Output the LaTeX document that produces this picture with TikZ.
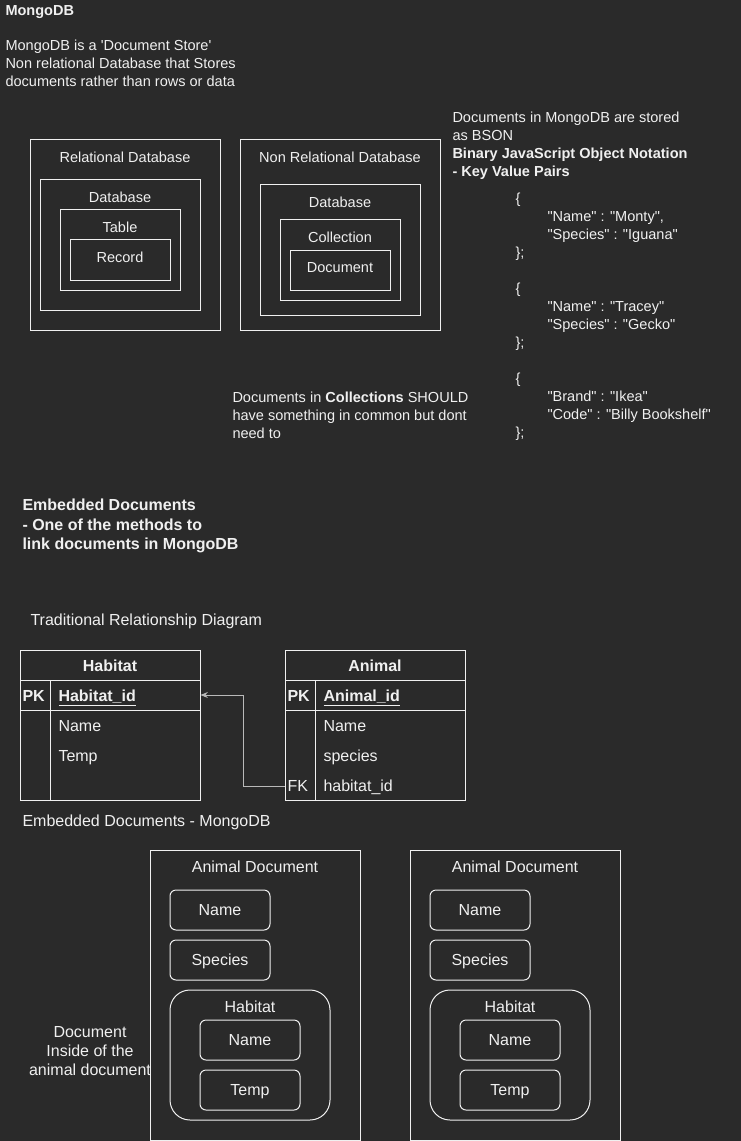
\documentclass[tikz,border=0pt]{standalone}
\usepackage{fontspec}
\setmainfont{Liberation Sans}[Ligatures=TeXOff]
\usetikzlibrary{arrows.meta}

\definecolor{bgdark}{RGB}{42,42,42}
\definecolor{ink}{RGB}{240,240,240}
\definecolor{wire}{RGB}{185,185,185}
\newcommand\drawtxt{\fontsize{10.9}{13.5}\selectfont}
\newcommand\bigtxt{\fontsize{12}{14.4}\selectfont}

\tikzset{every picture/.style={line width=0.75pt}}
\tikzset{
  txt/.style={text=ink, inner sep=0pt, font=\drawtxt, align=left},
  one/.style={text height=7.8pt, text depth=0pt},
  big/.style={font=\bigtxt, text height=8.6pt, text depth=0pt},
  cell/.style={draw=ink, inner sep=0pt, minimum width=135pt, minimum height=22.5pt},
  field/.style={draw=ink, rounded corners=4.5pt, inner sep=0pt, text=ink, big, minimum width=75pt, minimum height=30pt},
}

\begin{document}
\begin{tikzpicture}[x=0.75pt,y=0.75pt,yscale=-1,xscale=1]
\useasboundingbox (0,0) rectangle (741,1141);
\fill[bgdark] (0,0) rectangle (741,1141);

% Text Node
\draw (5,10) node [txt, one, anchor=west] (title) {\bfseries MongoDB};
% Text Node
\draw (5,63) node [txt, anchor=west] (intro) {MongoDB is a 'Document Store'\\Non relational Database that Stores\\documents rather than rows or data};

%Shape: Rectangle [relational]
\draw [ink] (30,140) -- (220,140) -- (220,330) -- (30,330) -- cycle ;
\draw [ink] (40,180) -- (200,180) -- (200,310) -- (40,310) -- cycle ;
\draw [ink] (60,210) -- (180,210) -- (180,290) -- (60,290) -- cycle ;
\draw [ink] (70,240) -- (170,240) -- (170,280) -- (70,280) -- cycle ;
% Text Node
\draw (125,157) node [txt, one] (reldb) {Relational Database};
\draw (120,197) node [txt, one] (relbase) {Database};
\draw (120,227) node [txt, one] (reltable) {Table};
\draw (120,257) node [txt, one] (relrecord) {Record};

%Shape: Rectangle [non relational]
\draw [ink] (240,140) -- (440,140) -- (440,330) -- (240,330) -- cycle ;
\draw [ink] (260,185) -- (420,185) -- (420,315) -- (260,315) -- cycle ;
\draw [ink] (280,220) -- (400,220) -- (400,300) -- (280,300) -- cycle ;
\draw [ink] (290,250) -- (390,250) -- (390,290) -- (290,290) -- cycle ;
% Text Node
\draw (340,157) node [txt, one] (nrdb) {Non Relational Database};
\draw (340,202) node [txt, one] (nrbase) {Database};
\draw (340,237) node [txt, one] (nrcoll) {Collection};
\draw (340,267) node [txt, one] (nrdoc) {Document};

% Text Node
\draw (452,145.5) node [txt, anchor=west] (bson) {Documents in MongoDB are stored\\as BSON\\\textbf{Binary JavaScript Object Notation}\\\textbf{- Key Value Pairs}};
% Text Node
\draw (515,227) node [txt, anchor=west] (jsonA) {\{\\\hspace*{24pt}"Name" : "Monty",\\\hspace*{24pt}"Species" : "Iguana"\\\};};
\draw (515,317) node [txt, anchor=west] (jsonB) {\{\\\hspace*{24pt}"Name" : "Tracey"\\\hspace*{24pt}"Species" : "Gecko"\\\};};
\draw (515,407) node [txt, anchor=west] (jsonC) {\{\\\hspace*{24pt}"Brand" : "Ikea"\\\hspace*{24pt}"Code" : "Billy Bookshelf"\\\};};
% Text Node
\draw (232,415) node [txt, anchor=west] (common) {Documents in \textbf{Collections} SHOULD\\have something in common but dont\\need to};

% Text Node
\draw (22,526) node [txt, anchor=west, font=\bigtxt\bfseries] (embedded) {Embedded Documents\\- One of the methods to\\link documents in MongoDB};
\draw (30,620) node [txt, big, anchor=west] (trad) {Traditional Relationship Diagram};

%Shape: Table [habitat]
\draw (110,665) node [cell] (habhead) {};
\draw (110,695) node [cell] (habpk) {};
\draw [ink] (20,710) -- (20,800) -- (200,800) -- (200,710) ;
\draw [ink] (50,680) -- (50,800) ;
\draw (110,666) node [txt, big] (habname) {\bfseries Habitat};
\draw (22,696) node [txt, big, anchor=west] (habpklbl) {\bfseries PK};
\draw (58,696) node [txt, big, anchor=west] (habid) {\bfseries\underline{Habitat\_id}};
\draw (58,726) node [txt, big, anchor=west] (habfa) {Name};
\draw (58,756) node [txt, big, anchor=west] (habfb) {Temp};

%Shape: Table [animal]
\draw (375,665) node [cell] (anhead) {};
\draw (375,695) node [cell] (anpk) {};
\draw [ink] (285,710) -- (285,800) -- (465,800) -- (465,710) ;
\draw [ink] (315,680) -- (315,800) ;
\draw (375,666) node [txt, big] (anname) {\bfseries Animal};
\draw (287,696) node [txt, big, anchor=west] (anpklbl) {\bfseries PK};
\draw (323,696) node [txt, big, anchor=west] (anid) {\bfseries\underline{Animal\_id}};
\draw (323,726) node [txt, big, anchor=west] (anfa) {Name};
\draw (323,756) node [txt, big, anchor=west] (anfb) {species};
\draw (285,786) node [txt, big, anchor=west, inner xsep=1.5pt] (anfk) {FK};
\draw (323,786) node [txt, big, anchor=west] (anfc) {habitat\_id};

%Straight Lines [foreign key]
\draw [wire, -{Stealth[length=5.5pt,width=4.5pt]}] (anfk.west) -- ++(-42,0) |- (habpk.east) ;

% Text Node
\draw (22,821) node [txt, big, anchor=west] (embmongo) {Embedded Documents - MongoDB};

%Shape: Rectangle [animal document one]
\draw [ink] (150,850) -- (360,850) -- (360,1140) -- (150,1140) -- cycle ;
\draw (255,866.5) node [txt, big] (docA) {Animal Document};
\draw (220,910) node [field] (nameA) {Name};
\draw (220,960) node [field] (speciesA) {Species};
\draw [ink, rounded corners=15pt] (170,990) -- (330,990) -- (330,1120) -- (170,1120) -- cycle ;
\draw (250,1006.5) node [txt, big] (habA) {Habitat};
\draw (250,1040) node [field] (hnameA) {Name};
\draw (250,1090) node [field] (htempA) {Temp};

%Shape: Rectangle [animal document two]
\draw [ink] (410,850) -- (620,850) -- (620,1140) -- (410,1140) -- cycle ;
\draw (515,866.5) node [txt, big] (docB) {Animal Document};
\draw (480,910) node [field] (nameB) {Name};
\draw (480,960) node [field] (speciesB) {Species};
\draw [ink, rounded corners=15pt] (430,990) -- (590,990) -- (590,1120) -- (430,1120) -- cycle ;
\draw (510,1006.5) node [txt, big] (habB) {Habitat};
\draw (510,1040) node [field] (hnameB) {Name};
\draw (510,1090) node [field] (htempB) {Temp};

% Text Node
\draw (90,1051) node [txt, font=\bigtxt, align=center] (inside) {Document\\Inside of the\\animal document};

\end{tikzpicture}
\end{document}
